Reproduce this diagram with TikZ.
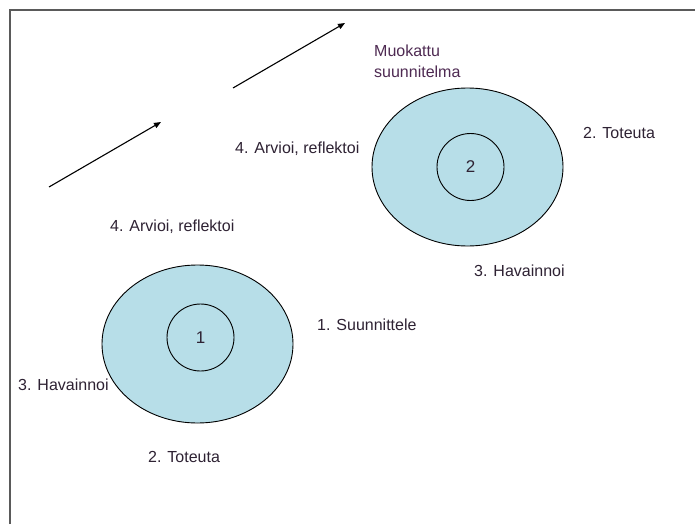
\documentclass[tikz,border=0pt]{standalone}
\usepackage{fontspec}
\setmainfont{Liberation Sans}
\usetikzlibrary{shapes.geometric,arrows.meta}
\definecolor{fillblue}{HTML}{B7DEE8}
\definecolor{txt}{HTML}{2E2233}
\definecolor{purp}{HTML}{4E2A52}
\definecolor{framec}{HTML}{5A5A5A}
\begin{document}
\begin{tikzpicture}[x=1pt,y=-1pt,
  outer/.style={ellipse, draw=black, line width=0.9pt, fill=fillblue, minimum width=191pt, minimum height=158pt, inner sep=0pt},
  inner/.style={circle, draw=black, line width=0.9pt, minimum size=67pt, inner sep=0pt, font=\fontsize{17}{20}\selectfont, text=txt},
  lbl/.style={anchor=west, inner sep=0pt, font=\fontsize{16}{19}\selectfont, text=txt},
  arr/.style={-{Triangle[length=7pt,width=5.5pt]}, line width=1.1pt, black}]
\useasboundingbox (0,0) rectangle (695,524);
\fill[white] (0,0) rectangle (695,524);
\draw[framec, line width=1.5pt] (10,524) -- (10,10) -- (695,10);

% arrows
\coordinate (a1s) at (49,187);
\coordinate (a1e) at (161,122);
\coordinate (a2s) at (233,88);
\coordinate (a2e) at (345,23);
\draw[arr] (a1s) -- (a1e);
\draw[arr] (a2s) -- (a2e);

% cycle 1
\node[outer] (e1) at (197.5,344) {};
\node[inner] (c1) at (200.5,337.5) {1};
% cycle 2
\node[outer] (e2) at (467.5,167) {};
\node[inner] (c2) at (470.5,167) {2};

% labels
\node[lbl] (l1) at (110,227) {4. Arvioi, reflektoi};
\node[lbl] (l2) at (235,149) {4. Arvioi, reflektoi};
\node[lbl, align=left, text=purp, font=\fontsize{16}{21}\selectfont] (l3) at (374,61.5) {Muokattu\\suunnitelma};
\node[lbl] (l4) at (583,133) {2. Toteuta};
\node[lbl] (l5) at (474,271) {3. Havainnoi};
\node[lbl] (l6) at (317,325) {1. Suunnittele};
\node[lbl] (l7) at (18,385) {3. Havainnoi};
\node[lbl] (l8) at (148,457) {2. Toteuta};
\end{tikzpicture}
\end{document}
